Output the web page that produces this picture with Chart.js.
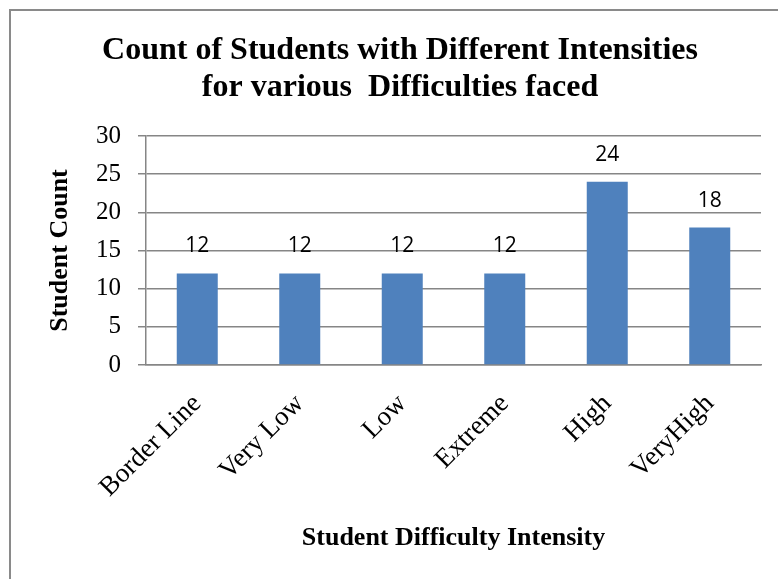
<!DOCTYPE html>
<html>
<head>
<meta charset="utf-8">
<script src="https://cdn.jsdelivr.net/npm/chart.js@4/dist/chart.umd.min.js"></script>
<style>
  html, body { margin: 0; padding: 0; background: #ffffff; }
  #wrap { width: 778px; height: 579px; }
</style>
</head>
<body>
<div id="wrap"><canvas id="chart" width="778" height="579"></canvas></div>
<script>
// Chart data
const categories = ['Border Line', 'Very Low', 'Low', 'Extreme', 'High', 'VeryHigh'];
const studentCounts = [12, 12, 12, 12, 24, 18];
const yAxisMin = 0;
const yAxisMax = 30;
const yAxisStep = 5;
const titleLines = ['Count of Students with Different Intensities', 'for various  Difficulties faced'];
const xAxisTitle = 'Student Difficulty Intensity';
const yAxisTitle = 'Student Count';

const SERIF = "'Liberation Serif', 'Times New Roman', serif";
const GRID = '#868686';

// Grey outline around the whole chart object
const frame = {
  id: 'frame',
  beforeDraw(chart) {
    const ctx = chart.ctx;
    ctx.save();
    ctx.fillStyle = '#ffffff';
    ctx.fillRect(0, 0, chart.width, chart.height);
    ctx.strokeStyle = '#8a8a8a';
    ctx.lineWidth = 2;
    ctx.strokeRect(10, 10, chart.width + 40, chart.height + 40);
    ctx.restore();
  }
};

// Value labels above each bar
const valueLabels = {
  id: 'valueLabels',
  afterDatasetsDraw(chart) {
    const ctx = chart.ctx;
    const meta = chart.getDatasetMeta(0);
    const values = chart.data.datasets[0].data;
    ctx.save();
    ctx.font = "21px 'Open Sans', 'Liberation Sans', sans-serif";
    ctx.fillStyle = '#000000';
    ctx.textAlign = 'center';
    ctx.textBaseline = 'middle';
    meta.data.forEach((bar, i) => {
      ctx.fillText(String(values[i]), bar.x, bar.y - 27);
    });
    ctx.restore();
  }
};

new Chart(document.getElementById('chart'), {
  type: 'bar',
  data: {
    labels: categories,
    datasets: [{
      data: studentCounts,
      backgroundColor: '#4F81BD',
      borderWidth: 0,
      categoryPercentage: 1,
      barPercentage: 0.4
    }]
  },
  options: {
    responsive: false,
    animation: false,
    layout: { padding: { left: 39, right: 17, top: 0, bottom: 20 } },
    plugins: {
      legend: { display: false },
      tooltip: { enabled: false },
      title: {
        display: true,
        text: titleLines,
        color: '#000000',
        font: { family: SERIF, size: 32, weight: 'bold', lineHeight: '37px' },
        padding: { top: 32, bottom: 30 }
      }
    },
    scales: {
      x: {
        grid: { display: false },
        border: { display: true, color: GRID, width: 1.5 },
        ticks: {
          color: '#000000',
          font: { family: SERIF, size: 27 },
          maxRotation: 45,
          minRotation: 45,
          padding: 15
        },
        title: {
          display: true,
          text: xAxisTitle,
          color: '#000000',
          font: { family: SERIF, size: 26, weight: 'bold', lineHeight: 1.2 },
          padding: { top: 0, bottom: 5.4 }
        },
        afterFit(scale) { scale.height = 194; }
      },
      y: {
        min: yAxisMin,
        max: yAxisMax,
        ticks: {
          stepSize: yAxisStep,
          color: '#000000',
          font: { family: SERIF, size: 25 },
          padding: 17
        },
        grid: {
          color: GRID,
          lineWidth: 1.5,
          drawTicks: true,
          tickLength: 8,
          tickColor: GRID
        },
        border: { display: true, color: GRID, width: 1.5 },
        title: {
          display: true,
          text: yAxisTitle,
          color: '#000000',
          font: { family: SERIF, size: 26, weight: 'bold', lineHeight: 1.2 },
          padding: { top: 5.4, bottom: 0 }
        },
        afterFit(scale) { scale.width = 107; }
      }
    }
  },
  plugins: [frame, valueLabels]
});
</script>
</body>
</html>
